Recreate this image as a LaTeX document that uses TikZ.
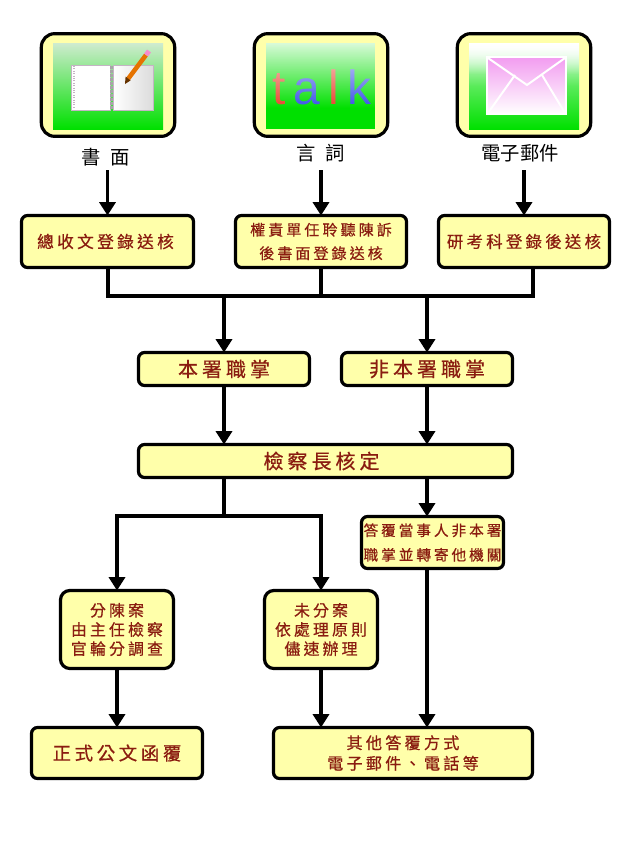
\documentclass[tikz,border=0pt]{standalone}
\usepackage{fontspec}
\usepackage{tikz}
\usetikzlibrary{arrows.meta}
\usetikzlibrary{fadings}
\newfontfamily\flowfont[LetterSpace=20,FakeBold=.6]{Noto Sans CJK TC}
\newfontfamily\capfont{Noto Sans CJK TC}
\newfontfamily\talkfont{Liberation Sans}
\definecolor{boxyellow}{HTML}{FFFFAA}
\definecolor{boxred}{HTML}{8A1C10}
\definecolor{leafgreen}{HTML}{00E000}
\definecolor{palegreen}{HTML}{CFEBCF}
\definecolor{mailpink}{HTML}{F29CF0}
\definecolor{pageedge}{HTML}{C4B4C4}
\definecolor{talkred}{HTML}{E8402C}
\definecolor{talkblue}{HTML}{3A50E8}
\tikzset{
 flowbox/.style n args = {4}{draw = black, line width = 2.4pt, fill = boxyellow, rounded corners = 4.5pt, inner sep = 0, outer sep = 0, align = center, text = boxred, minimum width = #1*.75pt, minimum height = #2*.75pt, font = \flowfont\fontsize{#3}{#4}\selectfont},
 iconbox/.style = {draw = black, line width = 2.4pt, fill = boxyellow, rounded corners = 10pt, inner sep = 0, outer sep = 0, minimum width = 100pt, minimum height = 77pt},
 caption/.style = {inner sep = 0, outer sep = 0, text = black, minimum height = #1*.75pt, font = \capfont\fontsize{14.5}{16}\selectfont},
 wire/.style = {line width = 2.4pt},
 flow/.style = {line width = 2.4pt, -{Triangle[length = 10pt, width = 12pt]}},
 greenfill/.style = {top color = palegreen, bottom color = leafgreen}
}
\begin{document}
\begin{tikzpicture}[x = .75pt, y = -.75pt]
 \useasboundingbox (0, 0) rectangle (640, 853);
 \node [iconbox] (bookicon) at (108, 85) {};
 \node [iconbox] (talkicon) at (321, 85) {};
 \node [iconbox] (mailicon) at (524, 85) {};

 \shade [greenfill] (53, 43) rectangle (163, 129);
 \draw [pageedge, fill = white, line width = .6pt] (71, 65) rectangle (110, 110);
 \shade [draw = pageedge, line width = .6pt, left color = white, right color = black!14] (113, 65) rectangle (153, 110);
 \draw [pageedge, densely dotted, line width = .8pt] (74, 66) -- (74, 109);
 \draw [black!35, densely dotted, line width = 2pt] (111.5, 66) -- (111.5, 109);
 \draw [orange!90!black, line width = 3.4pt] (128, 79) -- (146, 55);
 \fill [black!60!orange] (125, 84) -- (125.6, 76.5) -- (130.5, 80.5) -- cycle;
 \draw [magenta!45, line width = 3.6pt] (146, 55) -- (149, 51);

 \fill [leafgreen] (266, 43) rectangle (375, 129);
 \node [inner sep = 0, font = \talkfont\fontsize{36}{36}\selectfont] (talkword) at (322, 87) {\textcolor{talkred}{t}\hspace{6.25pt}\textcolor{talkblue}{a}\hspace{6.25pt}\textcolor{talkred}{l}\hspace{6.25pt}\textcolor{talkblue}{k}};
 \fill [white, path fading = south, fill opacity = .85] (266, 43) rectangle (375, 108);

 \shade [top color = white, bottom color = leafgreen, middle color = white!35!leafgreen] (469, 43) rectangle (579, 129);
 \fill [white, path fading = south] (469, 43) rectangle (579, 74);
 \shade [draw = white, line width = 1.5pt, top color = mailpink, bottom color = white] (487, 57) rectangle (566, 114);
 \draw [white, line width = 1.5pt] (488, 58) -- (527, 85) -- (565, 58);
 \draw [white, line width = 1.5pt] (515, 75) -- (488, 113);
 \draw [white, line width = 1.5pt] (542, 75) -- (565, 113);

 \node [caption = 26] (shumian) at (106, 157) {書\hspace{7.5pt}面};
 \node [caption = 34] (yanci) at (321, 153) {言\hspace{7.5pt}詞};
 \node [caption = 34] (email) at (520, 153) {電子郵件};

 \node [flowbox = {172}{52}{12.5}{17}] (zongshou) at (107.5, 241.5) {總收文登錄送核\hspace*{3pt}};
 \node [flowbox = {171}{52}{11.3}{17.6}] (quanze) at (321, 241.5) {權責單任聆聽陳訴\\後書面登錄送核};
 \node [flowbox = {171}{52}{12.3}{17}] (yankao) at (524, 241.5) {研考科登錄後送核};
 \node [flowbox = {171}{33}{15}{18}] (benshu) at (224, 369) {本署職掌};
 \node [flowbox = {171}{33}{15}{18}] (feiben) at (427, 369) {非本署職掌};
 \node [flowbox = {374}{33}{15}{18}] (hecha) at (325.5, 461) {檢察長核定\hspace*{6pt}};
 \node [flowbox = {142}{52}{11}{18.4}] (dafu) at (432.5, 542.5) {答覆當事人非本署\\職掌並轉寄他機關};
 \node [flowbox = {113}{78}{11.9}{14.4}, rounded corners = 7pt] (fenchen) at (117, 629.5) {分陳案\\由主任檢察\\官輪分調查};
 \node [flowbox = {113}{78}{11.9}{14.4}, rounded corners = 7pt] (weifen) at (321, 629.5) {未分案\\依處理原則\\儘速辦理};
 \node [flowbox = {171}{51}{13.8}{16}] (zhengshi) at (117, 753) {正式公文函覆};
 \node [flowbox = {259}{51}{12.1}{15.4}] (qita) at (403, 753) {其他答覆方式\\電子郵件、電話等};

 \coordinate (busleft) at (108, 296);
 \coordinate (busright) at (533, 296);
 \coordinate (split) at (224, 516);

 \draw [flow] (shumian.south -| zongshou.north) -- (zongshou.north);
 \draw [flow] (yanci.south -| quanze.north) -- (quanze.north);
 \draw [flow] (email.south -| yankao.north) -- (yankao.north);
 \draw [wire] (zongshou.south -| busleft) -- (busleft) -- (busright) -- (yankao.south -| busright);
 \draw [wire] (quanze.south) -- (quanze.south |- busleft);
 \draw [flow] (benshu.north |- busleft) -- (benshu.north);
 \draw [flow] (feiben.north |- busleft) -- (feiben.north);
 \draw [flow] (benshu.south) -- (hecha.north -| benshu.south);
 \draw [flow] (feiben.south) -- (hecha.north -| feiben.south);
 \draw [wire] (hecha.south -| split) -- (split);
 \draw [flow] (split) -| (fenchen.north);
 \draw [flow] (split) -| (weifen.north);
 \draw [flow] (hecha.south -| feiben.south) -- (dafu.north -| feiben.south);
 \draw [flow] (dafu.south -| feiben.south) -- (qita.north -| feiben.south);
 \draw [flow] (fenchen.south) -- (zhengshi.north);
 \draw [flow] (weifen.south) -- (qita.north -| weifen.south);
\end{tikzpicture}
\end{document}
